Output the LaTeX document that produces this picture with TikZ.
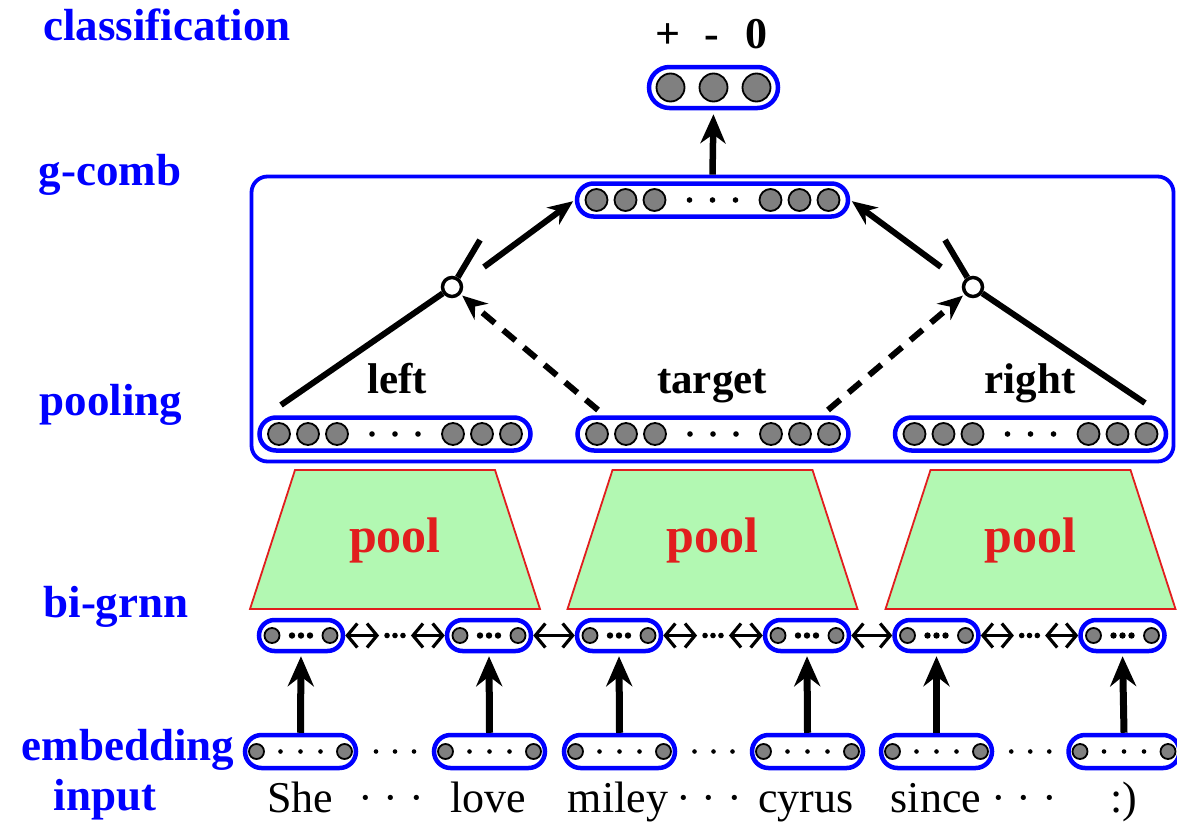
\documentclass[tikz,border=0pt]{standalone}
\usepackage{fontspec}
\setmainfont{Liberation Serif}
\usetikzlibrary{arrows.meta,shapes.misc}

\definecolor{capblue}{RGB}{0,0,255}
\definecolor{poolgreen}{RGB}{178,248,178}
\definecolor{poolred}{RGB}{225,30,30}
\definecolor{unitgray}{RGB}{128,128,128}

\begin{document}
\begin{tikzpicture}[x=1pt,y=-1pt,
  sidelabel/.style={text=capblue,font=\fontsize{45}{54}\selectfont\bfseries,anchor=base,inner sep=0pt},
  partlabel/.style={font=\fontsize{43}{50}\selectfont\bfseries,anchor=base,inner sep=0pt},
  classlabel/.style={font=\fontsize{44}{50}\selectfont\bfseries,anchor=base,inner sep=0pt},
  wordlabel/.style={font=\fontsize{44}{52}\selectfont,anchor=base,inner sep=0pt},
  pooltext/.style={text=poolred,font=\fontsize{50}{58}\selectfont\bfseries,anchor=base,inner sep=0pt},
  capsule/.style={rounded rectangle,draw=capblue,line width=4.5pt,fill=white,inner sep=0pt},
  bigcap/.style={capsule,minimum width=271pt,minimum height=33pt},
  rnncap/.style={capsule,minimum width=84pt,minimum height=31pt},
  embcap/.style={capsule,minimum width=111pt,minimum height=33pt},
  unit/.style={draw=black,fill=unitgray,line width=1.8pt},
  gate/.style={circle,draw=black,fill=white,line width=3.5pt,minimum size=19pt,inner sep=0pt},
  wire/.style={line width=6pt},
  wirearrow/.style={wire,-{Stealth[length=25pt,width=21pt,inset=8pt]},shorten >=2pt},
  dwire/.style={line width=6pt,dash pattern=on 16pt off 11pt,
    -{Stealth[length=25pt,width=21pt,inset=8pt]},shorten >=2pt},
  uparrow/.style={line width=7pt,-{Stealth[length=30pt,width=26pt,inset=10pt]},shorten >=3pt},
  biarrow/.style={line width=3.2pt,
    {Straight Barb[length=10pt,width=24pt,line width=3.2pt]}-{Straight Barb[length=10pt,width=24pt,line width=3.2pt]}},
  poolshape/.style={fill=poolgreen,draw=poolred,line width=1.8pt,line join=miter}]

\useasboundingbox (0,0) rectangle (1177,822);

% ---- layer names on the left ----
\node[sidelabel] (lcls) at (167,40)  {classification};
\node[sidelabel] (lcmb) at (110,185) {g-comb};
\node[sidelabel] (lpol) at (111,415) {pooling};
\node[sidelabel] (lrnn) at (116,617) {bi-grnn};
\node[sidelabel] (lemb) at (128,760) {embedding};
\node[sidelabel] (linp) at (105,810) {input};

% ---- classification output ----
\node[capsule,minimum width=129pt,minimum height=41pt] (out) at (713.5,87.5) {};
\begin{scope}[shift={(out.center)}]
  \foreach \dx in {-43,0,43} \draw[unit] (\dx,0) circle[radius=14pt];
\end{scope}
\node[classlabel] (cpos) at (668,48) {+};
\node[classlabel] (cneg) at (712,48) {-};
\node[classlabel] (czer) at (756,48) {0};

% ---- gated combination box ----
\node[draw=capblue,line width=3.8pt,rounded corners=16pt,minimum width=922pt,
      minimum height=285pt,inner sep=0pt] (gcomb) at (712.5,319) {};

\node[bigcap] (comb) at (712.5,200) {};
\node[bigcap] (pL) at (395,434) {};
\node[bigcap] (pT) at (713,434) {};
\node[bigcap] (pR) at (1030.5,434) {};
\foreach \c in {comb,pL,pT,pR}{
  \begin{scope}[shift={(\c.center)}]
    \foreach \dx in {-116,-87,-58,58,87,116} \draw[unit] (\dx,0) circle[radius=11pt];
    \foreach \dx in {-23,0,23} \fill (\dx,0) circle[radius=2.8pt];
  \end{scope}
}

\node[partlabel] (tl) at (397,393)  {left};
\node[partlabel] (tt) at (712,393)  {target};
\node[partlabel] (tr) at (1030,393) {right};

% gates
\node[gate] (gL) at (452,287) {};
\node[gate] (gR) at (973,287) {};
\coordinate (inL) at (281,405);
\coordinate (inR) at (1145,403);
\coordinate (lvL) at (480,240);
\coordinate (lvR) at (945,240);
\coordinate (aL) at (484,267);
\coordinate (aR) at (941,267);
\coordinate (dL) at (598,410);
\coordinate (dR) at (828,410);

\draw[wire] (inL) -- (gL);
\draw[wire] (inR) -- (gR);
\draw[wire] (gL) -- (lvL);
\draw[wire] (gR) -- (lvR);
\draw[wirearrow] (aL) -- (comb.west);
\draw[wirearrow] (aR) -- (comb.east);
\draw[dwire] (dL) -- (gL);
\draw[dwire] (dR) -- (gR);

\draw[line width=6.5pt,-{Stealth[length=29pt,width=25pt,inset=9pt]},shorten >=4pt]
  (gcomb.north) -- (out.south);

% ---- pooling trapezoids ----
\foreach \cx/\nm in {395/L,712.5/T,1030.5/R}{
  \draw[poolshape] (\cx-100,470) -- (\cx+100,470) -- (\cx+145,609) -- (\cx-145,609) -- cycle;
  \node[pooltext] (pool\nm) at (\cx,552) {pool};
}

% ---- bi-directional recurrent layer ----
\foreach \i/\cx in {1/301,2/489,3/619,4/807,5/936.5,6/1122.5}{
  \node[rnncap] (b\i) at (\cx,635.5) {};
  \begin{scope}[shift={(b\i.center)}]
    \foreach \dx in {-29,29} \draw[unit] (\dx,0) circle[radius=7.5pt];
    \foreach \dx in {-9,0,9} \fill (\dx,0) circle[radius=3.2pt];
  \end{scope}
}
% links with skipped positions
\foreach \a/\b in {1/2,3/4,5/6}{
  \path (b\a.east) -- (b\b.west)
    coordinate[pos=0.34] (m\a a) coordinate[pos=0.66] (m\a b)
    coordinate[pos=0.42] (d\a a) coordinate[pos=0.5] (d\a b) coordinate[pos=0.58] (d\a c);
  \draw[biarrow] (b\a.east) -- (m\a a);
  \draw[biarrow] (m\a b) -- (b\b.west);
  \foreach \k in {a,b,c} \fill (d\a\k) circle[radius=2.8pt];
}
% direct links
\draw[biarrow] (b2.east) -- (b3.west);
\draw[biarrow] (b4.east) -- (b5.west);

% ---- embeddings ----
\foreach \i/\cx in {1/300.5,2/489.5,3/619.5,4/807.5,5/936.5,6/1124}{
  \node[embcap] (e\i) at (\cx,751.5) {};
  \begin{scope}[shift={(e\i.center)}]
    \foreach \dx in {-44,44} \draw[unit] (\dx,0) circle[radius=7.5pt];
    \foreach \dx in {-20,0,20} \fill (\dx,0) circle[radius=2.3pt];
  \end{scope}
  \draw[uparrow] (e\i.north) -- (b\i.south);
}
\foreach \a/\b in {1/2,3/4,5/6}{
  \path (e\a.east) -- (e\b.west) coordinate[midway] (ed\a);
  \begin{scope}[shift={(ed\a)}]
    \foreach \dx in {-19,0,19} \fill (\dx,0) circle[radius=2.3pt];
  \end{scope}
}

% ---- input words ----
\node[wordlabel] (w1) at (300,812)  {She};
\node[wordlabel] (s1) at (391,812)  {· · ·};
\node[wordlabel] (w2) at (488,812)  {love};
\node[wordlabel] (w3) at (618,812)  {miley};
\node[wordlabel] (s2) at (709,812)  {· · ·};
\node[wordlabel] (w4) at (806,812)  {cyrus};
\node[wordlabel] (w5) at (936,812)  {since};
\node[wordlabel] (s3) at (1024,812) {· · ·};
\node[wordlabel] (w6) at (1124,812) {:)};

\end{tikzpicture}
\end{document}
